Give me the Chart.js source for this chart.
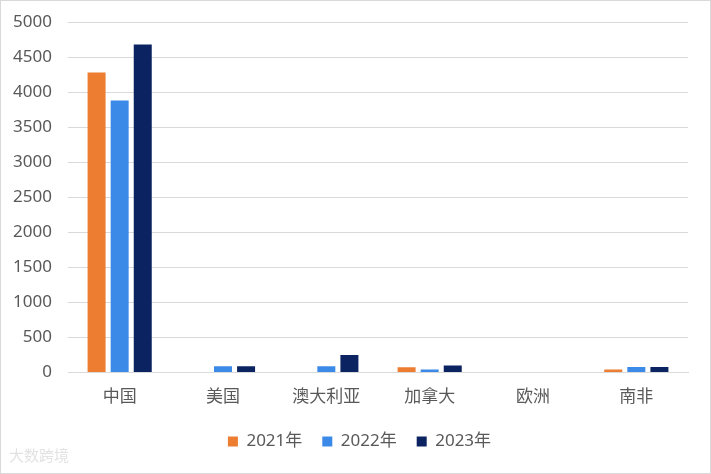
<!DOCTYPE html>
<html>
<head>
<meta charset="utf-8">
<script src="https://cdn.jsdelivr.net/npm/chart.js@4/dist/chart.umd.min.js"></script>
<style>
  html, body { margin: 0; padding: 0; background: #fff; }
  #wrap { position: relative; width: 709px; height: 472px; border: 1px solid #d9d9d9; }
  #mark { position: absolute; left: 8px; bottom: 8px; font: 15px "Noto Sans CJK SC", sans-serif; color: rgba(190,190,190,0.45); }
</style>
</head>
<body>
<div id="wrap">
  <canvas id="chart" width="709" height="472"></canvas>
  <div id="mark">大数跨境</div>
</div>
<script>
const categories = ["中国", "美国", "澳大利亚", "加拿大", "欧洲", "南非"];
const seriesNames = ["2021年", "2022年", "2023年"];
const values2021 = [4280, 0, 0, 75, 0, 45];
const values2022 = [3880, 90, 90, 45, 0, 80];
const values2023 = [4680, 90, 250, 100, 0, 80];
const yTicks = [0, 500, 1000, 1500, 2000, 2500, 3000, 3500, 4000, 4500, 5000];

const colors = ["#ED7D31", "#3C8AE8", "#0B2361"];
const allValues = [values2021, values2022, values2023];

document.addEventListener("DOMContentLoaded", function () {
    const ctx = document.getElementById("chart");
    const font = { family: "'Noto Sans', 'Noto Sans CJK SC', sans-serif", size: 17 };

    // Legende etwas nach rechts schieben, wie im Original
    const legendShift = {
        id: "legendShift",
        afterLayout(chart) {
            if (chart.legend) {
                chart.legend.left += 15;
                chart.legend.right += 15;
            }
        }
    };

    new Chart(ctx, {
        type: "bar",
        data: {
            labels: categories,
            datasets: seriesNames.map((name, i) => ({
                label: name,
                data: allValues[i],
                backgroundColor: colors[i],
                categoryPercentage: 0.67,
                barPercentage: 0.78
            }))
        },
        options: {
            responsive: false,
            animation: false,
            layout: { padding: { left: 0, right: 22, top: 4, bottom: 13 } },
            scales: {
                x: {
                    grid: { display: false },
                    border: { color: "#d9d9d9" },
                    ticks: { color: "#595959", font: font, padding: 6 }
                },
                y: {
                    min: 0,
                    max: 5000,
                    afterBuildTicks: (axis) => { axis.ticks = yTicks.map(v => ({ value: v })); },
                    afterFit: (axis) => { axis.width = 67; },
                    grid: { color: "#d9d9d9", drawTicks: false },
                    border: { display: false },
                    ticks: {
                        color: "#595959",
                        font: { family: font.family, size: 17, lineHeight: 0.6 },
                        padding: 16,
                        callback: (v) => String(v)
                    }
                }
            },
            plugins: {
                tooltip: { enabled: false },
                legend: {
                    position: "bottom",
                    labels: {
                        color: "#595959",
                        font: font,
                        boxWidth: 10,
                        boxHeight: 10,
                        padding: 20
                    }
                }
            }
        },
        plugins: [legendShift]
    });
});
</script>
</body>
</html>
